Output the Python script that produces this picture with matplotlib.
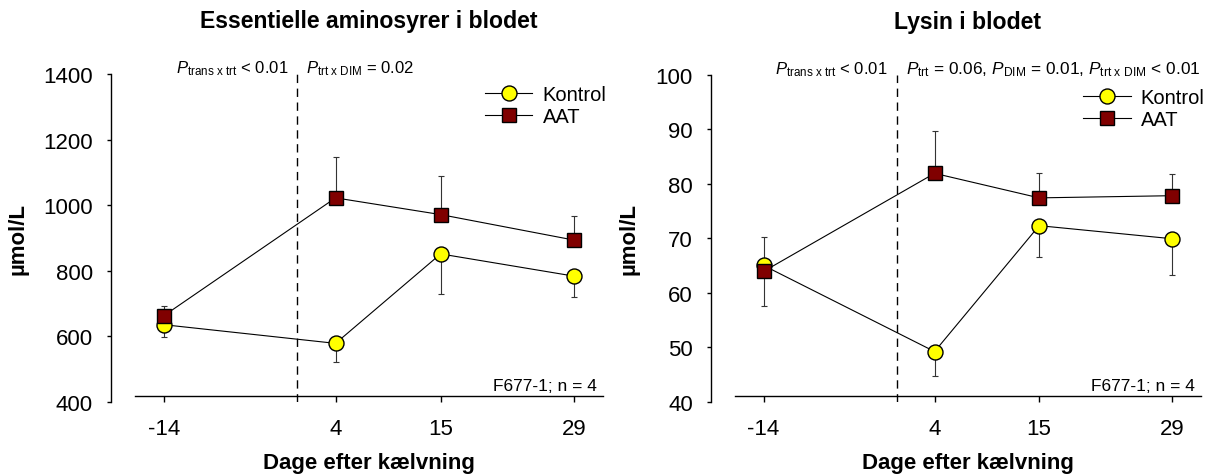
import matplotlib
matplotlib.use("Agg")
import matplotlib.pyplot as plt
from matplotlib.transforms import blended_transform_factory, offset_copy

plt.rcParams['font.family'] = ['Liberation Sans', 'DejaVu Sans']
plt.rcParams['mathtext.fontset'] = 'custom'
plt.rcParams['mathtext.rm'] = 'Liberation Sans'
plt.rcParams['mathtext.it'] = 'Liberation Sans:italic'
plt.rcParams['mathtext.bf'] = 'Liberation Sans:bold'

# ---- data ----
days = [-14, 4, 15, 29]
day_labels = ['-14', '4', '15', '29']
series_names = ['Kontrol', 'AAT']

eaa_kontrol = [635, 578, 851, 783]
eaa_kontrol_err = [38, 56, 122, 64]
eaa_aat = [662, 1022, 971, 893]
eaa_aat_err = [31, 126, 119, 73]

lys_kontrol = [65.0, 49.2, 72.3, 69.9]
lys_kontrol_err = [7.4, 4.4, 5.8, 6.7]
lys_aat = [63.9, 81.9, 77.4, 77.8]
lys_aat_err = [6.4, 7.8, 4.5, 4.0]

titles = ['Essentielle aminosyrer i blodet', 'Lysin i blodet']
xlabel = 'Dage efter kælvning'
ylabel = 'µmol/L'
note = 'F677-1; n = 4'
p_left = [r'$P_{\mathrm{trans\ x\ trt}}$ < 0.01', r'$P_{\mathrm{trans\ x\ trt}}$ < 0.01']
p_right = [r'$P_{\mathrm{trt\ x\ DIM}}$ = 0.02',
           r'$P_{\mathrm{trt}}$ = 0.06, $P_{\mathrm{DIM}}$ = 0.01, $P_{\mathrm{trt\ x\ DIM}}$ < 0.01']
ylims = [(400, 1400), (40, 100)]
yticks = [[400, 600, 800, 1000, 1200, 1400], [40, 50, 60, 70, 80, 90, 100]]

W, H = 1213, 477
fig = plt.figure(figsize=(W / 100, H / 100), dpi=100)
ax1 = fig.add_axes([135 / W, (H - 402.7) / H, 468 / W, 327.7 / H])
ax2 = fig.add_axes([735 / W, (H - 402.7) / H, 465.7 / W, 327.0 / H])

panels = [
    (ax1, eaa_kontrol, eaa_kontrol_err, eaa_aat, eaa_aat_err),
    (ax2, lys_kontrol, lys_kontrol_err, lys_aat, lys_aat_err),
]
ylabel_x = [-0.2286, -0.204]
legend_y = [0.903, 0.8976]
p_size = [12, 12.4]

for i, (ax, kv, ke, av, ae) in enumerate(panels):
    zeros = [0] * len(days)
    # error bars
    ax.errorbar(days, kv, yerr=[ke, zeros], fmt='none', ecolor='#333333',
                elinewidth=0.8, capsize=2.5, capthick=0.8, zorder=2)
    ax.errorbar(days, av, yerr=[zeros, ae], fmt='none', ecolor='#333333',
                elinewidth=0.8, capsize=2.5, capthick=0.8, zorder=2)
    ax.plot(days, kv, '-', color='black', lw=0.8, marker='o', markersize=10.8,
            markerfacecolor='#FFFF00', markeredgecolor='black', markeredgewidth=1.0,
            label=series_names[0], zorder=3)
    ax.plot(days, av, '-', color='black', lw=0.8, marker='s', markersize=10.3,
            markerfacecolor='#800000', markeredgecolor='black', markeredgewidth=1.0,
            label=series_names[1], zorder=4)

    ax.set_xlim(-17, 32)
    ax.set_ylim(*ylims[i])
    ax.axvline(0, color='black', lw=1.0, dashes=(6, 4), zorder=1)

    for s in ['top', 'right']:
        ax.spines[s].set_visible(False)
    ax.spines['left'].set_position(('outward', 17.5))
    ax.spines['bottom'].set_position(('outward', -4.32))
    ax.spines['left'].set_linewidth(1.0)
    ax.spines['bottom'].set_linewidth(1.0)

    ax.set_xticks(days)
    ax.set_xticklabels(day_labels)
    ax.set_yticks(yticks[i])
    ax.tick_params(axis='x', direction='out', length=4.3, width=1.0, pad=12, labelsize=16)
    ax.tick_params(axis='y', direction='out', length=2.9, width=1.0, pad=9.9, labelsize=16)

    ax.set_xlabel(xlabel, fontsize=16, fontweight='bold')
    ax.xaxis.set_label_coords(0.5, -0.155)
    ax.set_ylabel(ylabel, fontsize=16, fontweight='bold')
    ax.yaxis.set_label_coords(ylabel_x[i], 0.5)

    ax.set_title(titles[i], fontsize=16.6, fontweight='bold', y=1.143, pad=0, va='baseline')

    # P-value annotations
    trans = blended_transform_factory(ax.transData, ax.transAxes)
    ax.text(0, 1.0, p_left[i], transform=offset_copy(trans, fig=fig, x=-6.5, y=1.2, units='points'),
            ha='right', va='baseline', fontsize=12)
    ax.text(0, 1.0, p_right[i], transform=offset_copy(trans, fig=fig, x=6.5, y=1.2, units='points'),
            ha='left', va='baseline', fontsize=p_size[i])

    ax.text(1 - 6.3 / 468, 0.0366, note, transform=ax.transAxes, ha='right', va='baseline',
            fontsize=12.5)

    ax.legend(loc='center left', bbox_to_anchor=(0.748, legend_y[i]), frameon=False,
              fontsize=14.5, handlelength=2.35, handletextpad=0.5, labelspacing=0.15,
              borderpad=0, borderaxespad=0)

fig.savefig('out.png', dpi=100)
